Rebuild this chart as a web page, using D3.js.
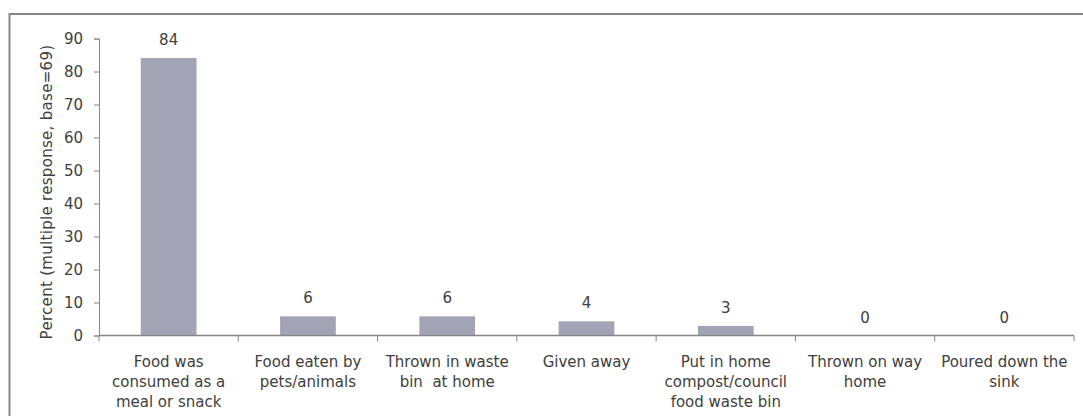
<!DOCTYPE html>
<html><head><meta charset="utf-8">
<script src="https://cdn.jsdelivr.net/npm/d3@7"></script>
<style>
html,body{margin:0;padding:0;background:#fff;}
svg{display:block;}
text{font-family:"DejaVu Sans",Verdana,sans-serif;fill:#404040;white-space:pre;}
</style></head>
<body>
<svg id="chart" width="1083" height="416"></svg>
<script>
const categories = [
  ["Food was","consumed as a","meal or snack"],
  ["Food eaten by","pets/animals"],
  ["Thrown in waste","bin  at home"],
  ["Given away"],
  ["Put in home","compost/council","food waste bin"],
  ["Thrown on way","home"],
  ["Poured down the","sink"]
];
const values = [84.1, 5.8, 5.8, 4.3, 2.9, 0, 0];
const labels = ["84","6","6","4","3","0","0"];
const yTicks = [0,10,20,30,40,50,60,70,80,90];
const yTitle = "Percent (multiple response, base=69)";

const svg = d3.select("#chart");
const axisColor = "#868686";
const fs = "15px";

// frame
svg.append("rect").attr("x",9.5).attr("y",14).attr("width",1090).attr("height",420)
  .attr("fill","none").attr("stroke",axisColor).attr("stroke-width",2);

const x0 = 99, x1 = 1074, yBase = 335.5, yTop = 38.5;
const idx = categories.map((d,i)=>i);
const x = d3.scaleBand().domain(idx).range([x0,x1]).paddingInner(0.6).paddingOuter(0.3);
const y = d3.scaleLinear().domain([0,90]).range([yBase,yTop]);

// Y axis
const yAxis = svg.append("g").attr("transform",`translate(${x0},0)`)
  .call(d3.axisLeft(y).tickValues(yTicks).tickSize(5).tickPadding(11));
yAxis.select(".domain").attr("stroke",axisColor);
yAxis.selectAll(".tick line").attr("stroke",axisColor);
yAxis.selectAll(".tick text").attr("font-size",fs).attr("fill","#404040")
  .style("font-family","DejaVu Sans").attr("dy","0.36em");

// bars
svg.append("g").selectAll("rect").data(values).join("rect")
  .attr("x",(d,i)=>x(i)).attr("width",x.bandwidth())
  .attr("y",d=>y(d)).attr("height",d=>yBase-y(d))
  .attr("fill","#a2a3b5");

// data labels
svg.append("g").selectAll("text").data(values).join("text")
  .attr("x",(d,i)=>x(i)+x.bandwidth()/2).attr("y",d=>y(d)-13)
  .attr("text-anchor","middle").attr("font-size",fs)
  .text((d,i)=>labels[i]);

// X axis line & ticks at boundaries
const step = (x1-x0)/categories.length;
const bounds = d3.range(categories.length+1).map(i=>x0+i*step);
svg.append("line").attr("x1",x0).attr("x2",x1).attr("y1",yBase).attr("y2",yBase)
  .attr("stroke",axisColor).attr("stroke-width",1.5);
svg.append("g").selectAll("line").data(bounds).join("line")
  .attr("x1",d=>d).attr("x2",d=>d).attr("y1",yBase).attr("y2",yBase+6)
  .attr("stroke",axisColor);

// category labels
const catG = svg.append("g").selectAll("text").data(categories).join("text")
  .attr("x",(d,i)=>x(i)+x.bandwidth()/2).attr("y",366.5)
  .attr("text-anchor","middle").attr("font-size",fs);
catG.each(function(lines){
  const t = d3.select(this);
  lines.forEach((l,j)=>{
    t.append("tspan").attr("x",t.attr("x")).attr("dy",j===0?0:20).text(l);
  });
});

// y title
svg.append("text").attr("transform",`translate(52,192) rotate(-90)`)
  .attr("text-anchor","middle").attr("font-size",fs).attr("letter-spacing","0.3px")
  .text(yTitle);
</script>
</body></html>
